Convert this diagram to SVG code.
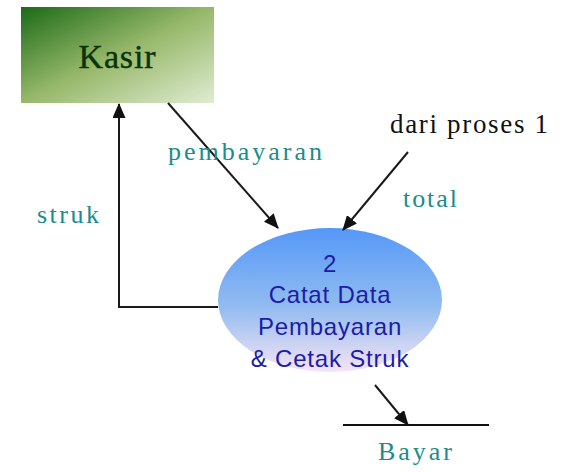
<svg xmlns="http://www.w3.org/2000/svg" width="561" height="472" viewBox="0 0 561 472">
  <style>
    .flow { fill: none; stroke: #1a1a1a; stroke-width: 2; }
    .lbl { font-family: "Liberation Serif", "Times New Roman", serif; font-size: 26px; fill: #1a8c8c; }
    .proc { font-family: "Liberation Sans", Arial, sans-serif; font-size: 24px; fill: #1c1ca8; text-anchor: middle; letter-spacing: 0.8px; }
  </style>
  <defs>
    <linearGradient id="kasirFill" x1="0" y1="0" x2="1" y2="1">
      <stop offset="0" stop-color="#1c6a18"/>
      <stop offset="0.5" stop-color="#97b86a"/>
      <stop offset="1" stop-color="#e0ecd2"/>
    </linearGradient>
    <linearGradient id="procFill" x1="0" y1="0" x2="0" y2="1">
      <stop offset="0" stop-color="#5598f8"/>
      <stop offset="0.55" stop-color="#92bcf0"/>
      <stop offset="1" stop-color="#f6e4f4"/>
    </linearGradient>
    <marker id="arrow" viewBox="0 0 15 13" refX="14" refY="6.5" markerWidth="15" markerHeight="13" markerUnits="userSpaceOnUse" orient="auto">
      <path d="M0,0 L15,6.5 L0,13 Z" fill="#111"/>
    </marker>
  </defs>

  <!-- external entity -->
  <g id="kasir">
    <rect x="21" y="7" width="193" height="96" fill="url(#kasirFill)"/>
    <text x="117" y="68" font-family="'Liberation Serif', 'Times New Roman', serif" font-size="34" fill="#083408" stroke="#083408" stroke-width="0.4" text-anchor="middle" textLength="77" lengthAdjust="spacing">Kasir</text>
  </g>

  <!-- process 2 -->
  <g id="proses2">
    <ellipse cx="330" cy="300" rx="112" ry="72" fill="url(#procFill)"/>
    <text class="proc" x="330" y="272">2</text>
    <text class="proc" x="330" y="303">Catat Data</text>
    <text class="proc" x="330" y="335">Pembayaran</text>
    <text class="proc" x="330" y="367">&amp; Cetak Struk</text>
  </g>

  <!-- data store -->
  <g id="bayar">
    <line x1="343" y1="425" x2="489" y2="425" stroke="#111" stroke-width="2"/>
    <text class="lbl" x="378" y="460" textLength="74" lengthAdjust="spacing">Bayar</text>
  </g>

  <!-- source label -->
  <g id="dari-proses-1">
    <text x="390" y="133" font-family="'Liberation Serif', 'Times New Roman', serif" font-size="27" fill="#111" textLength="158" lengthAdjust="spacing">dari proses 1</text>
  </g>

  <!-- data flows -->
  <g id="connectors">
    <line class="flow" x1="168" y1="103" x2="278" y2="228" marker-end="url(#arrow)"/>
    <polyline class="flow" points="218,307 119,307 119,104" marker-end="url(#arrow)"/>
    <line class="flow" x1="408" y1="152" x2="343" y2="230" marker-end="url(#arrow)"/>
    <line class="flow" x1="375" y1="385" x2="408" y2="425" marker-end="url(#arrow)"/>
    <text class="lbl" x="168" y="160" textLength="154" lengthAdjust="spacing">pembayaran</text>
    <text class="lbl" x="37" y="223" textLength="62" lengthAdjust="spacing">struk</text>
    <text class="lbl" x="403" y="207" textLength="54" lengthAdjust="spacing">total</text>
  </g>
</svg>
